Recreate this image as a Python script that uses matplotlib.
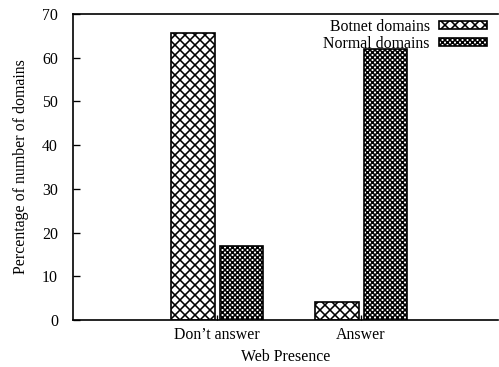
import matplotlib
matplotlib.use("Agg")
import matplotlib.pyplot as plt
import numpy as np

categories = ["Don\u2019t answer", "Answer"]
botnet = [65.7, 4.2]
normal = [17.0, 62.0]
series_labels = ["Botnet domains", "Normal domains"]

plt.rcParams["font.family"] = ["Liberation Serif", "DejaVu Serif"]
plt.rcParams["font.size"] = 9.5
plt.rcParams["hatch.linewidth"] = 0.95

dpi = 120
fig = plt.figure(figsize=(499 / dpi, 367 / dpi), dpi=dpi)
ax = fig.add_axes([73 / 499, 1 - 320 / 367, (498 - 73) / 499, (320 - 14) / 367])

x = np.arange(1, len(categories) + 1)
w = 0.3
off = 0.167
ax.bar(x - off, botnet, w, facecolor="white", edgecolor="black", hatch="xxxx",
       linewidth=1.0, label=series_labels[0])
ax.bar(x + off, normal, w, facecolor="white", edgecolor="black", hatch="x" * 8,
       linewidth=1.0, label=series_labels[1])

ax.set_xlim(0, 2.95)
ax.set_ylim(0, 70)
ax.set_yticks(range(0, 71, 10))
ax.set_xticks(x)
ax.set_xticklabels(categories)
ax.tick_params(direction="in", length=4, width=0.8)
ax.tick_params(axis="y", pad=9)
ax.tick_params(axis="x", length=3, pad=4)
ax.spines["right"].set_visible(False)
for s in ("left", "bottom", "top"):
    ax.spines[s].set_linewidth(1.0)

ax.set_xlabel("Web Presence", labelpad=4)
ax.set_ylabel("Percentage of number of domains", labelpad=8)

# legend sits just under the top frame, keys to the right of the text
leg = ax.legend(loc="upper right", bbox_to_anchor=(1 - 8 / 425, 1 - 1.6 / 306),
                frameon=False, markerfirst=False,
                handlelength=3.0, handleheight=0.45, handletextpad=0.6,
                borderaxespad=0, labelspacing=0.05, borderpad=0.2)

fig.savefig("out.png", dpi=dpi)
